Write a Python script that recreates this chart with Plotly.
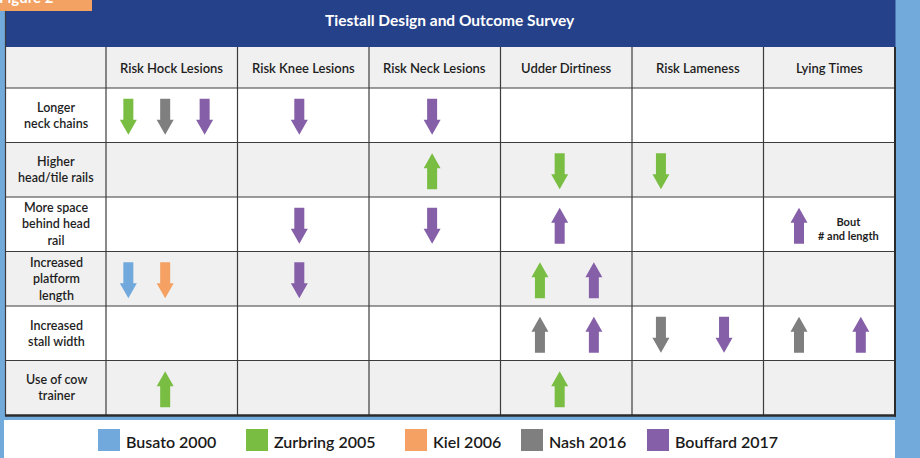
import plotly.graph_objects as go

# ---------------- data ----------------
outcomes = ["Risk Hock Lesions", "Risk Knee Lesions", "Risk Neck Lesions",
            "Udder Dirtiness", "Risk Lameness", "Lying Times"]
designs = ["Longer<br>neck chains", "Higher<br>head/tile rails",
           "More space<br>behind head<br>rail", "Increased<br>platform<br>length",
           "Increased<br>stall width", "Use of cow<br>trainer"]
studies = ["Busato 2000", "Zurbring 2005", "Kiel 2006", "Nash 2016", "Bouffard 2017"]

# one entry per finding (arrow)
arrow_study = ["Zurbring 2005", "Nash 2016", "Bouffard 2017", "Bouffard 2017", "Bouffard 2017",
               "Zurbring 2005", "Zurbring 2005", "Zurbring 2005",
               "Bouffard 2017", "Bouffard 2017", "Bouffard 2017", "Bouffard 2017",
               "Busato 2000", "Kiel 2006", "Bouffard 2017", "Zurbring 2005", "Bouffard 2017",
               "Nash 2016", "Bouffard 2017", "Nash 2016", "Bouffard 2017", "Nash 2016", "Bouffard 2017",
               "Zurbring 2005", "Zurbring 2005"]
arrow_design = [1, 1, 1, 1, 1,
                2, 2, 2,
                3, 3, 3, 3,
                4, 4, 4, 4, 4,
                5, 5, 5, 5, 5, 5,
                6, 6]
arrow_outcome = [1, 1, 1, 2, 3,
                 3, 4, 5,
                 2, 3, 4, 6,
                 1, 1, 2, 4, 4,
                 4, 4, 5, 5, 6, 6,
                 1, 4]
arrow_direction = ["down", "down", "down", "down", "down",
                   "up", "down", "down",
                   "down", "down", "up", "up",
                   "down", "down", "down", "up", "up",
                   "up", "up", "down", "down", "up", "up",
                   "up", "up"]
# slot within the cell (fraction of a column width from the cell centre)
arrow_slot = [-0.33, -0.05, 0.25, -0.03, -0.02,
              -0.02, -0.05, -0.28,
              -0.03, -0.02, -0.05, -0.23,
              -0.33, -0.05, -0.03, -0.20, 0.21,
              -0.20, 0.21, -0.28, 0.20, -0.23, 0.24,
              -0.05, -0.05]

note_text = "Bout<br># and length"
note_design = 3
note_outcome = 6

title_text = "Tiestall Design and Outcome Survey"
tab_text = "Figure 2"

# ---------------- styles ----------------
study_colors = {"Busato 2000": "#72a9dc", "Zurbring 2005": "#79be42",
                "Kiel 2006": "#f4a163", "Nash 2016": "#7f7f80",
                "Bouffard 2017": "#8560a8"}
BG_BLUE = "#72aadc"
TITLE_BLUE = "#254189"
ORANGE = "#f3a263"
CELL_GRAY = "#f0f0f0"
LINE = "#3c3c3c"
FONT = "Lato"

W, H = 920, 458
ML, MR, MT, MB = 6, 25, 47, 43
PW, PH = W - ML - MR, H - MT - MB
COLW, ROWH = 131.5, 54.5
LABELW, HEADH = 100.0, 41.0


def px(x):
    return (x - ML) / PW


def py(y):
    return (H - MB - y) / PH


x_lo = 0.5 - LABELW / COLW
x_hi = len(outcomes) + 0.5
y_top = 0.5 - HEADH / ROWH
y_bot = len(designs) + 0.5

fig = go.Figure()

# arrow geometry (in axis units)
SW = 5.0 / COLW        # shaft half width
HW = 8.5 / COLW        # head half width
HALF_H = 18.0 / ROWH   # half total height
HEAD_H = 15.0 / ROWH   # head height
DY = 1.5 / ROWH        # small downward nudge

for s in studies:
    xs, ys = [], []
    for st, r, c, d, off in zip(arrow_study, arrow_design, arrow_outcome,
                                arrow_direction, arrow_slot):
        if st != s:
            continue
        cx = c + off
        cy = r + DY
        if d == "down":
            top, tip = cy - HALF_H, cy + HALF_H
            neck = tip - HEAD_H
        else:
            top, tip = cy + HALF_H, cy - HALF_H
            neck = tip + HEAD_H
        pts = [(cx - SW, top), (cx + SW, top), (cx + SW, neck), (cx + HW, neck),
               (cx, tip), (cx - HW, neck), (cx - SW, neck), (cx - SW, top)]
        xs += [p[0] for p in pts] + [None]
        ys += [p[1] for p in pts] + [None]
    fig.add_trace(go.Scatter(x=xs, y=ys, mode="lines", fill="toself",
                             fillcolor=study_colors[s], line=dict(width=0, color=study_colors[s]),
                             name=s, showlegend=False, hoverinfo="skip"))

shapes = []
# legend white area
shapes.append(dict(type="rect", xref="paper", yref="paper", x0=px(4), x1=px(895),
                   y0=py(H + 5), y1=py(420), fillcolor="white", line_width=0, layer="below"))
# title bar
shapes.append(dict(type="rect", xref="paper", yref="paper", x0=px(5), x1=px(895.5),
                   y0=py(47), y1=py(-3), fillcolor=TITLE_BLUE, line_width=0, layer="below"))
# row shading
shapes.append(dict(type="rect", xref="x", yref="y", x0=x_lo, x1=x_hi, y0=y_top, y1=0.5,
                   fillcolor=CELL_GRAY, line_width=0, layer="below"))
for r in range(1, len(designs) + 1):
    if r % 2 == 0:
        shapes.append(dict(type="rect", xref="x", yref="y", x0=x_lo, x1=x_hi,
                           y0=r - 0.5, y1=r + 0.5, fillcolor=CELL_GRAY, line_width=0, layer="below"))
# inner grid
for r in range(len(designs)):
    shapes.append(dict(type="line", xref="x", yref="y", x0=x_lo, x1=x_hi, y0=r + 0.5, y1=r + 0.5,
                       line=dict(color=LINE, width=1.2), layer="below"))
for c in range(len(outcomes)):
    shapes.append(dict(type="line", xref="x", yref="y", x0=c + 0.5, x1=c + 0.5, y0=y_top, y1=y_bot,
                       line=dict(color=LINE, width=1.2), layer="below"))
# outer borders
shapes.append(dict(type="line", xref="paper", yref="paper", x0=px(5.5), x1=px(5.5),
                   y0=py(415), y1=py(11), line=dict(color=LINE, width=1.2)))
shapes.append(dict(type="line", xref="paper", yref="paper", x0=px(895), x1=px(895),
                   y0=py(416.5), y1=py(47), line=dict(color="#2b2b2b", width=2)))
shapes.append(dict(type="line", xref="paper", yref="paper", x0=px(5), x1=px(896),
                   y0=py(415.5), y1=py(415.5), line=dict(color="#2b2b2b", width=2.5)))
# orange tab
shapes.append(dict(type="rect", xref="paper", yref="paper", x0=px(-2), x1=px(92),
                   y0=py(11), y1=py(-3), fillcolor=ORANGE, line_width=0))

annotations = []
annotations.append(dict(xref="paper", yref="paper", x=px(450), y=py(19.5), text=title_text,
                        showarrow=False, xanchor="center", yanchor="middle",
                        font=dict(family=FONT, size=15.5, color="white", weight="bold")))
annotations.append(dict(xref="paper", yref="paper", x=px(-3), y=py(-3), text=tab_text,
                        showarrow=False, xanchor="left", yanchor="middle",
                        font=dict(family=FONT, size=15, color="white", weight="bold")))
for i, o in enumerate(outcomes, start=1):
    annotations.append(dict(xref="x", yref="y", x=i, y=(y_top + 0.5) / 2, text=o,
                            showarrow=False, xanchor="center", yanchor="middle",
                            font=dict(family=FONT, size=13, color="#1e1e1e", weight=600)))
for j, d in enumerate(designs, start=1):
    annotations.append(dict(xref="x", yref="y", x=(x_lo + 0.5) / 2, y=j, text=d,
                            showarrow=False, xanchor="center", yanchor="middle",
                            font=dict(family=FONT, size=12.5, color="#1e1e1e", weight=600)))
annotations.append(dict(xref="x", yref="y", x=note_outcome + 0.15, y=note_design + 0.07,
                        text=note_text, showarrow=False, xanchor="center", yanchor="middle",
                        font=dict(family=FONT, size=11, color="#1e1e1e", weight="bold")))

# legend (manual, squares + labels)
legend_x = [98, 246, 405, 521, 647]
for s, lx in zip(studies, legend_x):
    shapes.append(dict(type="rect", xref="paper", yref="paper", x0=px(lx), x1=px(lx + 22),
                       y0=py(451), y1=py(429), fillcolor=study_colors[s], line_width=0))
    annotations.append(dict(xref="paper", yref="paper", x=px(lx + 26), y=py(441), text=s,
                            showarrow=False, xanchor="left", yanchor="middle",
                            font=dict(family=FONT, size=16, color="#1a1a1a", weight=600)))

fig.update_layout(
    width=W, height=H,
    margin=dict(l=ML, r=MR, t=MT, b=MB, pad=0),
    paper_bgcolor=BG_BLUE, plot_bgcolor="white",
    showlegend=False,
    xaxis=dict(range=[x_lo, x_hi], visible=False, fixedrange=True),
    yaxis=dict(range=[y_bot, y_top], visible=False, fixedrange=True),
    shapes=shapes, annotations=annotations,
)

fig.write_html("out.html", config={"displayModeBar": False},
               post_script="document.body.style.margin='0';document.body.style.overflow='hidden';")
